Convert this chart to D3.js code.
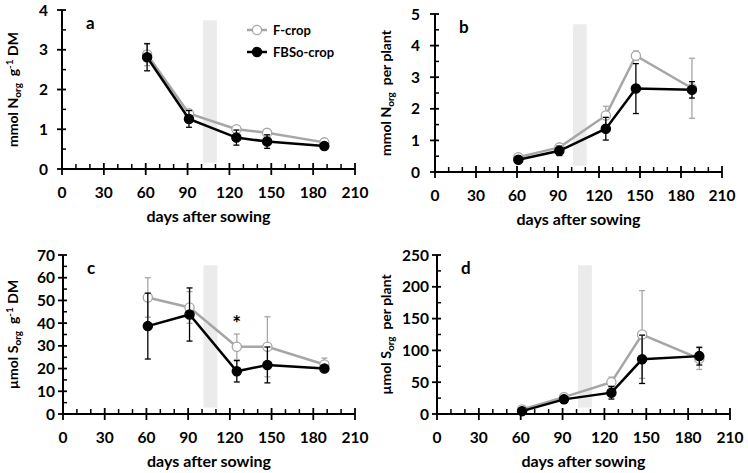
<!DOCTYPE html>
<html>
<head>
<meta charset="utf-8">
<script src="https://cdn.jsdelivr.net/npm/d3@7"></script>
<style>
  body { margin: 0; background: #fff; }
  svg { font-family: Lato, 'Open Sans', sans-serif; font-weight: bold; }
  text { white-space: pre; }
</style>
</head>
<body>
<svg id="chart"></svg>
<script>
// sampling days (shared by all panels)
const days = [61, 91, 125, 147, 188];

// a: mmol Norg g-1 DM
const aF = [2.88, 1.40, 1.00, 0.91, 0.67];
const aFErr = [0.28, 0.08, 0.06, 0.06, 0.06];
const aB = [2.81, 1.26, 0.79, 0.69, 0.58];
const aBErr = [0.34, 0.21, 0.19, 0.17, 0.05];

// b: mmol Norg per plant
const bF = [0.47, 0.78, 1.79, 3.68, 2.65];
const bFErr = [0.05, 0.08, 0.29, 0.15, 0.95];
const bB = [0.39, 0.67, 1.37, 2.64, 2.60];
const bBErr = [0.05, 0.15, 0.36, 0.79, 0.26];

// c: umol Sorg g-1 DM
const cF = [51.3, 46.9, 29.6, 29.6, 21.8];
const cFErr = [8.7, 7.0, 5.6, 13.2, 2.8];
const cB = [38.7, 43.8, 18.8, 21.6, 20.0];
const cBErr = [14.5, 11.7, 4.7, 7.9, 1.0];

// d: umol Sorg per plant
const dF = [7, 26.5, 50, 125, 87];
const dFErr = [2, 6, 8, 69, 17];
const dB = [4.5, 23, 33.5, 86, 91];
const dBErr = [2, 6, 10, 38, 14];

const xTicks = [0, 30, 60, 90, 120, 150, 180, 210];
const series = ['F-crop', 'FBSo-crop'];
const band = [101, 111]; // grey period

const W = 748, H = 473;
const grey = '#a6a6a6';

const panels = [
  { id: 'a', l: 62, r: 355, t: 10, b: 169, max: 4, step: 1, minor: 0.5, F: aF, FE: aFErr, B: aB, BE: aBErr,
    unit: 'mmol N', sub: 'org', rest: ['  g', '-1', ' DM'], labX: 18, labOff: 14, legend: true },
  { id: 'b', l: 435, r: 722, t: 14, b: 172, max: 5, step: 1, minor: 0.5, F: bF, FE: bFErr, B: bB, BE: bBErr,
    unit: 'mmol N', sub: 'org', rest: ['  per plant'], labX: 391, labOff: 15 },
  { id: 'c', l: 63, r: 355, t: 255, b: 414, max: 70, step: 10, minor: 5, F: cF, FE: cFErr, B: cB, BE: cBErr,
    unit: 'µmol S', sub: 'org', rest: ['  g', '-1', ' DM'], labX: 18, labOff: 8, star: 125 },
  { id: 'd', l: 437, r: 730, t: 255, b: 414, max: 250, step: 50, minor: 25, F: dF, FE: dFErr, B: dB, BE: dBErr,
    unit: 'µmol S', sub: 'org', rest: ['  per plant'], labX: 391, labOff: 8 },
];

const svg = d3.select('#chart').attr('width', W).attr('height', H);

panels.forEach((p) => {
  const x = d3.scaleLinear().domain([0, 210]).range([p.l, p.r]);
  const y = d3.scaleLinear().domain([0, p.max]).range([p.b, p.t]);
  const g = svg.append('g');

  // grey band
  g.append('rect')
    .attr('x', x(band[0]))
    .attr('width', x(band[1]) - x(band[0]))
    .attr('y', y(p.max * 0.935))
    .attr('height', y(p.max * 0.04) - y(p.max * 0.935))
    .attr('fill', '#ebebeb');

  // x axis
  const xMinor = d3.range(0, 211, 10).filter((v) => v % 30 !== 0);
  g.append('line').attr('x1', p.l).attr('x2', p.r).attr('y1', p.b).attr('y2', p.b)
    .attr('stroke', '#000').attr('stroke-width', 2);
  g.selectAll('.xmaj').data(xTicks).join('line')
    .attr('x1', (d) => x(d)).attr('x2', (d) => x(d))
    .attr('y1', p.b - 6).attr('y2', p.b + 6)
    .attr('stroke', '#000').attr('stroke-width', 1.8);
  g.selectAll('.xmin').data(xMinor).join('line')
    .attr('x1', (d) => x(d)).attr('x2', (d) => x(d))
    .attr('y1', p.b - 5).attr('y2', p.b)
    .attr('stroke', '#000').attr('stroke-width', 1.5);
  g.selectAll('.xlab').data(xTicks).join('text')
    .attr('x', (d) => x(d)).attr('y', p.b + 29)
    .attr('text-anchor', 'middle').attr('font-size', 15.5)
    .text((d) => d);
  g.append('text')
    .attr('x', (p.l + p.r) / 2).attr('y', p.b + 53)
    .attr('text-anchor', 'middle').attr('font-size', 16)
    .text('days after sowing');

  // y axis
  const yMaj = d3.range(0, p.max + p.step / 2, p.step);
  const yMin = d3.range(p.minor, p.max, p.step);
  g.append('line').attr('x1', p.l).attr('x2', p.l).attr('y1', p.t).attr('y2', p.b)
    .attr('stroke', '#000').attr('stroke-width', 2);
  g.selectAll('.ymaj').data(yMaj).join('line')
    .attr('x1', p.l - 5).attr('x2', p.l + 4)
    .attr('y1', (d) => y(d)).attr('y2', (d) => y(d))
    .attr('stroke', '#000').attr('stroke-width', 1.8);
  g.selectAll('.ymin').data(yMin).join('line')
    .attr('x1', p.l).attr('x2', p.l + 4)
    .attr('y1', (d) => y(d)).attr('y2', (d) => y(d))
    .attr('stroke', '#000').attr('stroke-width', 1.5);
  g.selectAll('.ylab').data(yMaj).join('text')
    .attr('x', p.l - p.labOff).attr('y', (d) => y(d) + 5.5)
    .attr('text-anchor', 'end').attr('font-size', 15.5)
    .text((d) => d);

  // y label
  const cy = (p.t + p.b) / 2;
  const lab = g.append('text')
    .attr('transform', `translate(${p.labX},${cy}) rotate(-90)`)
    .attr('text-anchor', 'middle').attr('font-size', 14);
  lab.append('tspan').text(p.unit);
  lab.append('tspan').attr('font-size', 10).attr('dy', 3).text(p.sub);
  if (p.rest.length === 3) {
    lab.append('tspan').attr('dy', -3).text(p.rest[0]);
    lab.append('tspan').attr('font-size', 10).attr('dy', -5).text(p.rest[1]);
    lab.append('tspan').attr('dy', 5).text(p.rest[2]);
  } else {
    lab.append('tspan').attr('dy', -3).text(p.rest[0]);
  }

  // panel letter
  g.append('text').attr('x', p.l + 24).attr('y', p.t + 19)
    .attr('font-size', 17).text(p.id);

  // series
  const drawSeries = (vals, errs, color, filled) => {
    const pts = days.map((d, i) => ({ d, v: vals[i], e: errs[i] }));
    g.selectAll(null).data(pts).join('line')
      .attr('x1', (o) => x(o.d)).attr('x2', (o) => x(o.d))
      .attr('y1', (o) => y(o.v - o.e)).attr('y2', (o) => y(o.v + o.e))
      .attr('stroke', color).attr('stroke-width', 1.3);
    [-1, 1].forEach((s) => {
      g.selectAll(null).data(pts).join('line')
        .attr('x1', (o) => x(o.d) - 3).attr('x2', (o) => x(o.d) + 3)
        .attr('y1', (o) => y(o.v + s * o.e)).attr('y2', (o) => y(o.v + s * o.e))
        .attr('stroke', color).attr('stroke-width', 1.3);
    });
    g.append('path').datum(pts)
      .attr('d', d3.line().x((o) => x(o.d)).y((o) => y(o.v)))
      .attr('fill', 'none').attr('stroke', color).attr('stroke-width', 2.5);
    g.selectAll(null).data(pts).join('circle')
      .attr('cx', (o) => x(o.d)).attr('cy', (o) => y(o.v))
      .attr('r', 4.6)
      .attr('fill', filled ? '#000' : '#fff')
      .attr('stroke', color).attr('stroke-width', 1.3);
  };
  drawSeries(p.F, p.FE, grey, false);
  drawSeries(p.B, p.BE, '#000', true);

  if (p.star) {
    g.append('text').attr('x', x(p.star)).attr('y', y(40.5) + 9)
      .attr('text-anchor', 'middle').attr('font-size', 21).text('*');
  }

  if (p.legend) {
    const items = [
      { name: series[0], color: grey, filled: false, yy: 30 },
      { name: series[1], color: '#000', filled: true, yy: 52 },
    ];
    items.forEach((it) => {
      g.append('line').attr('x1', 247).attr('x2', 267).attr('y1', it.yy).attr('y2', it.yy)
        .attr('stroke', it.color).attr('stroke-width', 2.5);
      g.append('circle').attr('cx', 257).attr('cy', it.yy).attr('r', 4.6)
        .attr('fill', it.filled ? '#000' : '#fff').attr('stroke', it.color).attr('stroke-width', 1.3);
      g.append('text').attr('x', 273).attr('y', it.yy + 4.5)
        .attr('font-size', 13).text(it.name);
    });
  }
});
</script>
</body>
</html>
